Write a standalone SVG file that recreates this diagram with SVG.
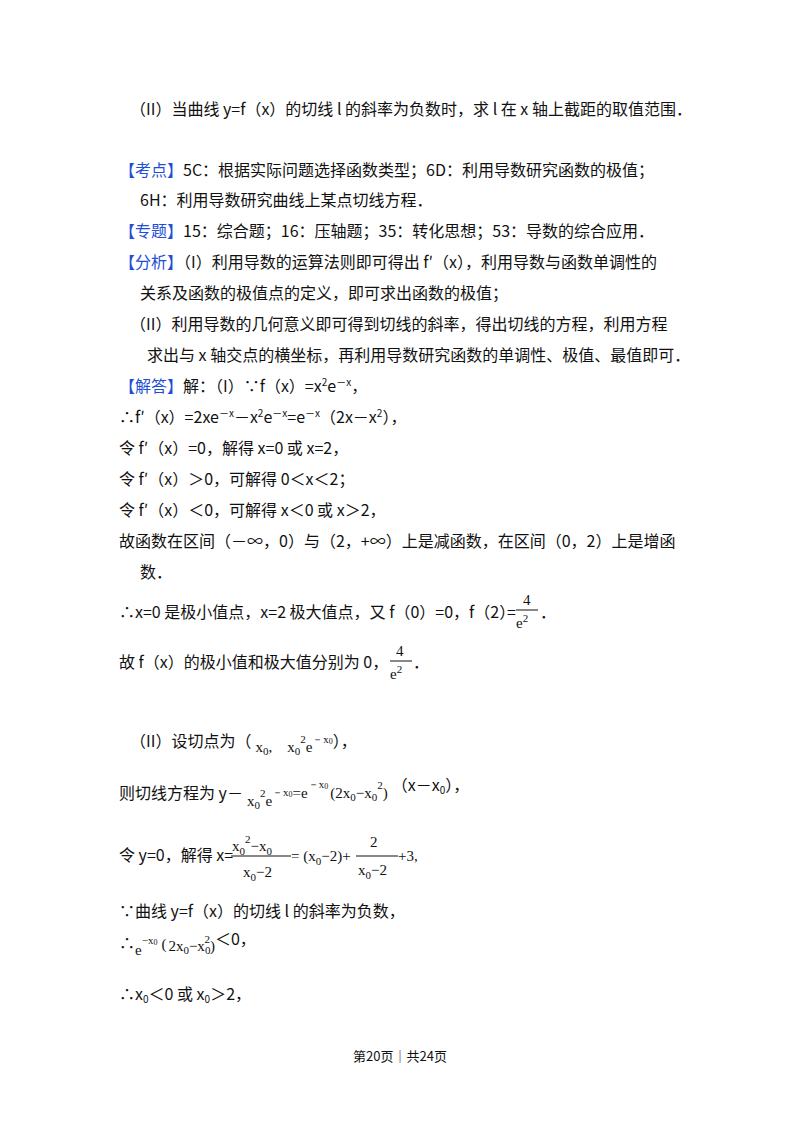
<svg xmlns="http://www.w3.org/2000/svg" width="800" height="1132" viewBox="0 0 800 1132">
<style>
text{font-family:"Noto Sans CJK SC","Noto Sans",sans-serif;font-size:16px;fill:#111}
.b{fill:#1f4fd6}
.m{font-family:"Liberation Serif",serif;font-size:15px}
.s{font-size:10px}
.ss{font-family:"Liberation Serif",serif;font-size:11px}
.sss{font-family:"Liberation Serif",serif;font-size:8px}
.ft{font-size:13px}
</style>
<rect width="800" height="1132" fill="#fff"/>
<g id="body">
<text x="130" y="115">（II）当曲线 y=f（x）的切线 l 的斜率为负数时，求 l 在 x 轴上截距的取值范围．</text>
<text x="119" y="176"><tspan class="b">【考点】</tspan>5C：根据实际问题选择函数类型；6D：利用导数研究函数的极值；</text>
<text x="140" y="206">6H：利用导数研究曲线上某点切线方程．</text>
<text x="119" y="237"><tspan class="b">【专题】</tspan>15：综合题；16：压轴题；35：转化思想；53：导数的综合应用．</text>
<text x="119" y="268"><tspan class="b">【分析】</tspan>（I）利用导数的运算法则即可得出 f′（x），利用导数与函数单调性的</text>
<text x="140" y="299">关系及函数的极值点的定义，即可求出函数的极值；</text>
<text x="130" y="330">（II）利用导数的几何意义即可得到切线的斜率，得出切线的方程，利用方程</text>
<text x="147" y="361">求出与 x 轴交点的横坐标，再利用导数研究函数的单调性、极值、最值即可．</text>
<text x="119" y="392"><tspan class="b">【解答】</tspan>解：（I）∵f（x）=x<tspan class="s" dy="-6">2</tspan><tspan dy="6">e</tspan><tspan class="s" dy="-6">－x</tspan><tspan dy="6">，</tspan></text>
<text x="119" y="423">∴f′（x）=2xe<tspan class="s" dy="-6">－x</tspan><tspan dy="6">－x</tspan><tspan class="s" dy="-6">2</tspan><tspan dy="6">e</tspan><tspan class="s" dy="-6">－x</tspan><tspan dy="6">=e</tspan><tspan class="s" dy="-6">－x</tspan><tspan dy="6">（2x－x</tspan><tspan class="s" dy="-6">2</tspan><tspan dy="6">），</tspan></text>
<text x="119" y="454">令 f′（x）=0，解得 x=0 或 x=2，</text>
<text x="119" y="485">令 f′（x）＞0，可解得 0＜x＜2；</text>
<text x="119" y="516">令 f′（x）＜0，可解得 x＜0 或 x＞2，</text>
<text x="119" y="547">故函数在区间（－∞，0）与（2，+∞）上是减函数，在区间（0，2）上是增函</text>
<text x="140" y="578">数．</text>
<text x="119" y="618">∴x=0 是极小值点，x=2 极大值点，又 f（0）=0，f（2）</text>
<text x="507" y="618">=</text>
<text class="m" x="523" y="605">4</text>
<line x1="516" y1="610" x2="538" y2="610" stroke="#111" stroke-width="1"/>
<text class="m" x="516" y="628">e<tspan font-size="11" dy="-6">2</tspan></text>
<text x="540" y="618">．</text>
<text x="119" y="668">故 f（x）的极小值和极大值分别为 0，</text>
<text class="m" x="396" y="656">4</text>
<line x1="390" y1="661" x2="412" y2="661" stroke="#111" stroke-width="1"/>
<text class="m" x="390" y="679">e<tspan font-size="11" dy="-6">2</tspan></text>
<text x="413" y="668">．</text>
<text x="130" y="747">（II）设切点为（<tspan class="m" dx="4" dy="5">x</tspan><tspan class="ss" dy="3">0</tspan><tspan class="m" dy="-3">,　x</tspan><tspan class="ss" dy="3">0</tspan><tspan class="ss" dy="-12">2</tspan><tspan class="m" dy="9">e</tspan><tspan class="ss" dy="-9">－x</tspan><tspan class="sss" dy="1">0</tspan><tspan dy="3">），</tspan></text>
<text x="119" y="799">则切线方程为 y－<tspan class="m" dx="4" dy="7">x</tspan><tspan class="ss" dy="3">0</tspan><tspan class="ss" dy="-12">2</tspan><tspan class="m" dy="9">e</tspan><tspan class="ss" dy="-10">－x</tspan><tspan class="sss" dy="1">0</tspan><tspan class="m" dy="1">=e</tspan><tspan class="ss" dy="-10">－x</tspan><tspan class="sss" dy="1">0</tspan><tspan class="m" dx="2" dy="9">(2x</tspan><tspan class="ss" dy="3">0</tspan><tspan class="m" dy="-3">−x</tspan><tspan class="ss" dy="3">0</tspan><tspan class="ss" dy="-12">2</tspan><tspan class="m" dy="9">)</tspan><tspan dx="4" dy="-7">（x－x</tspan><tspan class="s" dy="3">0</tspan><tspan dy="-3">），</tspan></text>
<text x="119" y="861">令 y=0，解得 x=</text>
<text class="m" x="232" y="851">x<tspan font-size="11" dy="4">0</tspan><tspan font-size="11" dy="-12">2</tspan><tspan dy="8">−x</tspan><tspan font-size="11" dy="4">0</tspan></text>
<line x1="231" y1="856" x2="291" y2="856" stroke="#111" stroke-width="1"/>
<text class="m" x="243" y="877">x<tspan font-size="11" dy="4">0</tspan><tspan dy="-4">−2</tspan></text>
<text class="m" x="291" y="861">= (x<tspan font-size="11" dy="4">0</tspan><tspan dy="-4">−2)+</tspan></text>
<text class="m" x="370" y="847">2</text>
<line x1="356" y1="856" x2="398" y2="856" stroke="#111" stroke-width="1"/>
<text class="m" x="358" y="875">x<tspan font-size="11" dy="4">0</tspan><tspan dy="-4">−2</tspan></text>
<text class="m" x="398" y="861">+3,</text>
<text x="119" y="917">∵曲线 y=f（x）的切线 l 的斜率为负数，</text>
<text x="119" y="949">∴<tspan class="m" dy="6">e</tspan><tspan class="ss" dy="-11">−x</tspan><tspan class="sss" dy="1">0</tspan><tspan class="m" dx="4" dy="4">(</tspan><tspan class="m" dx="2" dy="2">2x</tspan><tspan class="ss" dy="3">0</tspan><tspan class="m" dy="-3">−x</tspan><tspan class="ss" dy="3">0</tspan><tspan class="ss" dx="-6" dy="-11">2</tspan><tspan class="m" dy="8">)</tspan><tspan dy="-6">＜0，</tspan></text>
<text x="119" y="1000">∴x<tspan class="s" dy="3">0</tspan><tspan dy="-3">＜0 或 x</tspan><tspan class="s" dy="3">0</tspan><tspan dy="-3">＞2，</tspan></text>
</g>
<g id="footer"><text class="ft" x="400" y="1061" text-anchor="middle">第20页｜共24页</text></g>
</svg>
